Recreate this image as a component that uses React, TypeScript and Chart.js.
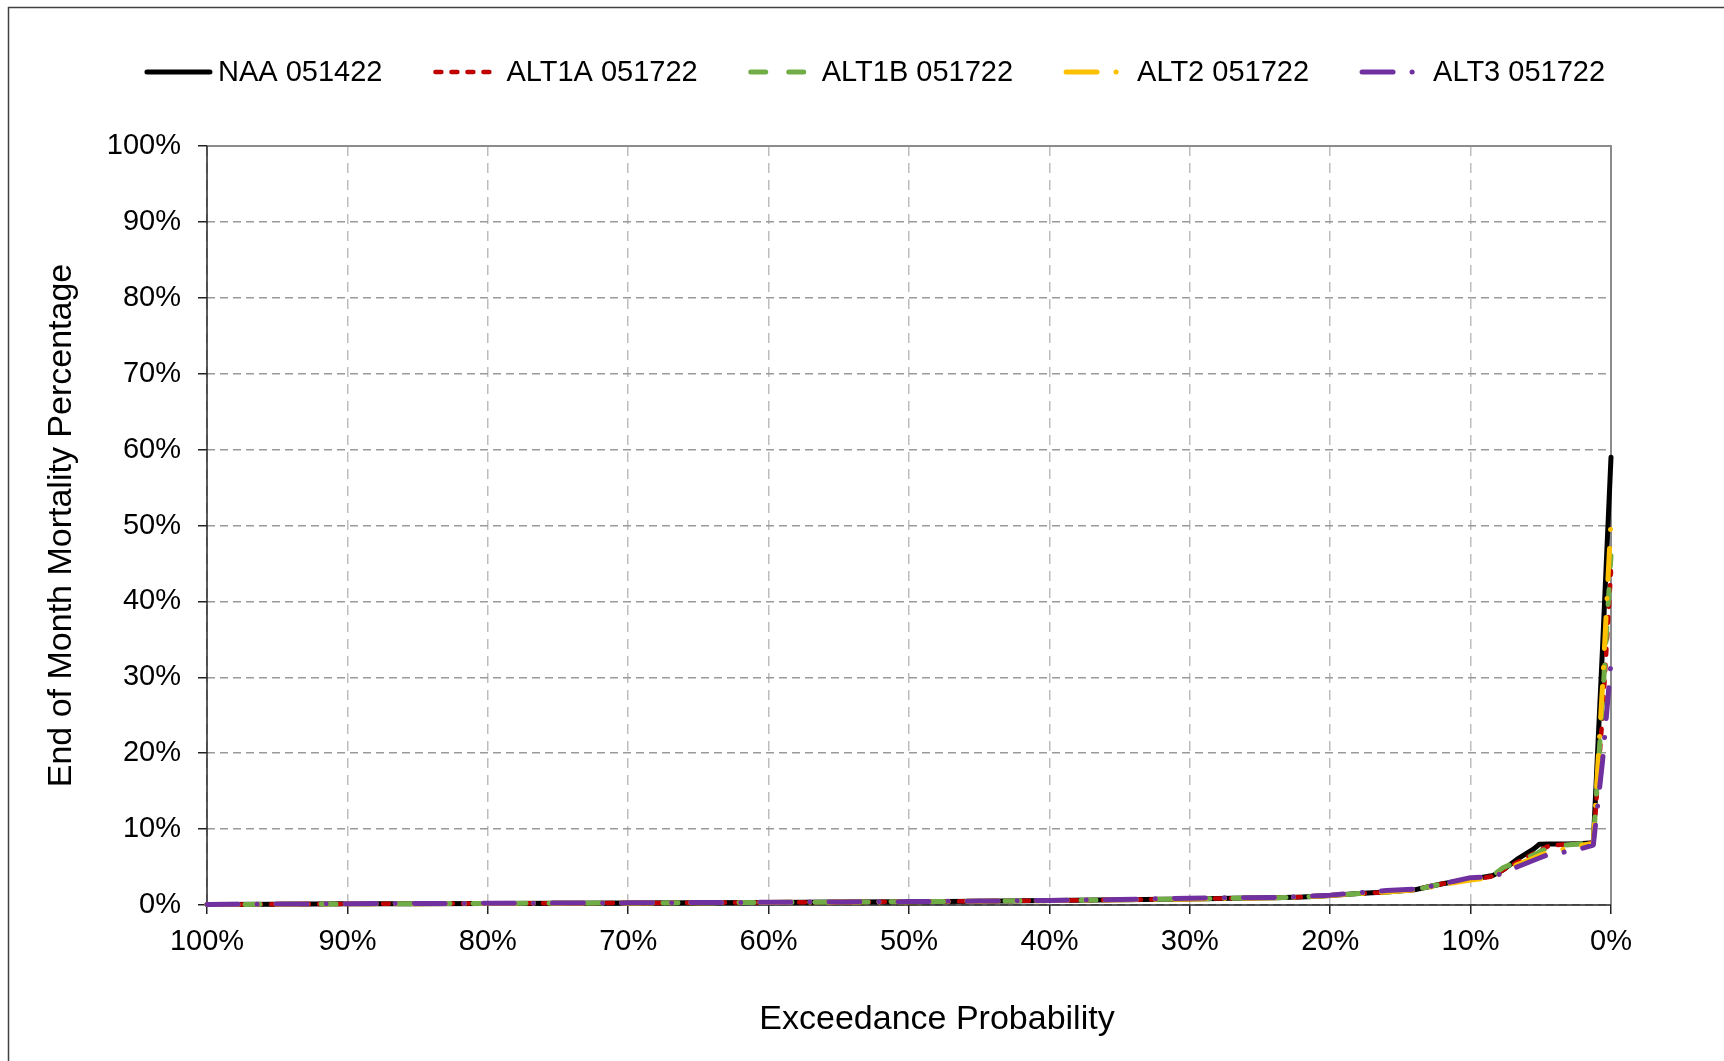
import React, { useEffect, useRef } from 'react';
import { Chart, registerables } from 'chart.js';

Chart.register(...registerables);

// Exceedance probability (%) shared by all series
const exceedance = [100, 95, 90, 85, 80, 75, 70, 65, 60, 55, 50, 45, 40, 35, 30, 27, 24, 22, 20, 18, 16, 14, 13, 12, 11, 10, 9, 8.4, 7.7, 6.7, 5.5, 5.1, 4.4, 3.2, 2.0, 1.26, 0.6, 0];

// End of month mortality percentage (%)
const naa051422 = [0.05, 0.1, 0.15, 0.17, 0.2, 0.22, 0.25, 0.3, 0.33, 0.38, 0.42, 0.5, 0.58, 0.68, 0.8, 0.88, 0.95, 1.05, 1.25, 1.5, 1.7, 2.0, 2.4, 2.8, 3.1, 3.4, 3.7, 3.9, 4.6, 6.0, 7.4, 8.0, 8.05, 8.05, 8.1, 8.2, 34, 59];
const alt1a051722 = [0.05, 0.1, 0.15, 0.18, 0.2, 0.23, 0.26, 0.3, 0.34, 0.38, 0.43, 0.5, 0.58, 0.68, 0.8, 0.88, 0.96, 1.05, 1.25, 1.5, 1.7, 2.0, 2.4, 2.8, 3.1, 3.4, 3.6, 3.8, 4.6, 5.6, 6.8, 7.2, 7.8, 8.0, 8.1, 8.2, 25, 44];
const alt1b051722 = [0.05, 0.1, 0.15, 0.18, 0.2, 0.23, 0.26, 0.3, 0.34, 0.38, 0.43, 0.5, 0.58, 0.68, 0.8, 0.88, 0.96, 1.05, 1.25, 1.5, 1.7, 2.0, 2.4, 2.8, 3.1, 3.4, 3.6, 3.9, 4.9, 5.7, 6.6, 7.0, 7.6, 7.9, 8.1, 8.2, 27, 46];
const alt2051722 = [0.05, 0.1, 0.15, 0.18, 0.2, 0.23, 0.26, 0.3, 0.34, 0.38, 0.43, 0.5, 0.58, 0.68, 0.8, 0.88, 0.96, 1.05, 1.25, 1.5, 1.7, 2.0, 2.3, 2.7, 3.0, 3.3, 3.5, 3.7, 4.3, 5.3, 6.2, 6.5, 7.0, 7.4, 7.9, 8.1, 29, 50.7];
const alt3051722 = [0.07, 0.12, 0.17, 0.2, 0.22, 0.25, 0.28, 0.32, 0.36, 0.4, 0.45, 0.52, 0.6, 0.72, 0.9, 0.95, 1.0, 1.1, 1.3, 1.6, 1.9, 2.1, 2.4, 2.8, 3.2, 3.6, 3.7, 3.8, 4.2, 5.0, 5.9, 6.2, 6.7, 7.0, 7.5, 7.9, 19, 32];

const seriesLabels = ['NAA 051422', 'ALT1A 051722', 'ALT1B 051722', 'ALT2 051722', 'ALT3 051722'];
const seriesValues = [naa051422, alt1a051722, alt1b051722, alt2051722, alt3051722];
const seriesColors = ['#000000', '#C00000', '#70AD47', '#FFC000', '#7030A0'];
const seriesDash = [[], [6, 10], [15, 23], [31, 19, 0.1, 19], [31, 19, 0.1, 19]];
const seriesWidth = [5, 4.5, 5, 5, 5];

const xTitle = 'Exceedance Probability';
const yTitle = 'End of Month Mortality Percentage';

const FONT = '"Liberation Sans", Arial, sans-serif';

export default function App() {
  const ref = useRef<HTMLCanvasElement>(null);

  useEffect(() => {
    document.body.style.margin = '0';
    document.body.style.overflow = 'hidden';
    const canvas = ref.current!;

    const decor = {
      id: 'decor',
      beforeDatasetsDraw(chart: any) {
        const { ctx, chartArea: a } = chart;
        ctx.save();
        ctx.strokeStyle = '#8c8c8c';
        ctx.lineWidth = 2;
        ctx.setLineDash([]);
        ctx.beginPath();
        ctx.moveTo(a.left, a.top);
        ctx.lineTo(a.right, a.top);
        ctx.lineTo(a.right, a.bottom);
        ctx.stroke();
        ctx.strokeStyle = '#262626';
        ctx.lineWidth = 1.5;
        ctx.beginPath();
        ctx.moveTo(a.left, a.top);
        ctx.lineTo(a.left, a.bottom);
        ctx.lineTo(a.right, a.bottom);
        ctx.stroke();
        ctx.restore();
      },
      afterDraw(chart: any) {
        const { ctx, chartArea: a } = chart;
        ctx.save();
        // outer frame
        ctx.strokeStyle = '#404040';
        ctx.lineWidth = 1.5;
        ctx.beginPath();
        ctx.moveTo(8.5, chart.height);
        ctx.lineTo(8.5, 7.5);
        ctx.lineTo(chart.width, 7.5);
        ctx.stroke();

        // legend
        ctx.font = `29px ${FONT}`;
        ctx.textBaseline = 'middle';
        ctx.textAlign = 'left';
        const lineLen = 67;
        const gap = 6;
        const spacing = 51;
        const ds = chart.data.datasets;
        const widths = ds.map((d: any) => lineLen + gap + ctx.measureText(d.label).width);
        const total = widths.reduce((s: number, w: number) => s + w, 0) + spacing * (ds.length - 1);
        let x = 875 - total / 2;
        const ly = 72;
        ds.forEach((d: any, i: number) => {
          ctx.save();
          ctx.strokeStyle = d.borderColor;
          ctx.lineWidth = d.borderWidth;
          ctx.lineCap = 'round';
          ctx.setLineDash(d.borderDash || []);
          ctx.beginPath();
          ctx.moveTo(x + 2, ly);
          ctx.lineTo(x + lineLen - 2, ly);
          ctx.stroke();
          ctx.restore();
          ctx.fillStyle = '#000';
          ctx.fillText(d.label, x + lineLen + gap, ly + 1);
          x += widths[i] + spacing;
        });

        // axis titles
        ctx.font = `34px ${FONT}`;
        ctx.fillStyle = '#000';
        ctx.textAlign = 'center';
        ctx.textBaseline = 'middle';
        ctx.fillText(xTitle, 937, 1020);
        ctx.translate(62, (a.top + a.bottom) / 2);
        ctx.rotate(-Math.PI / 2);
        ctx.fillText(yTitle, 0, 0);
        ctx.restore();
      },
    };

    const datasets = seriesLabels.map((label, i) => ({
      label,
      data: exceedance.map((p, j) => ({ x: p, y: seriesValues[i][j] })),
      borderColor: seriesColors[i],
      backgroundColor: seriesColors[i],
      borderWidth: seriesWidth[i],
      borderDash: seriesDash[i],
      borderCapStyle: 'round' as const,
      borderJoinStyle: 'round' as const,
      pointRadius: 0,
      pointHoverRadius: 0,
      tension: 0,
      fill: false,
      clip: 6,
      order: seriesLabels.length - i,
    }));

    const chart = new Chart(canvas, {
      type: 'line',
      data: { datasets },
      options: {
        animation: false,
        responsive: false,
        devicePixelRatio: 1,
        layout: { padding: { top: 146, right: 113, bottom: 0, left: 0 } },
        plugins: {
          legend: { display: false },
          tooltip: { enabled: false },
          title: { display: false },
        },
        scales: {
          x: {
            type: 'linear',
            reverse: true,
            min: 0,
            max: 100,
            afterFit: (s: any) => { s.height = 156; },
            ticks: {
              stepSize: 10,
              autoSkip: false,
              maxRotation: 0,
              padding: 11,
              color: '#000',
              font: { family: FONT, size: 29 },
              callback: (v: any) => `${v}%`,
            },
            grid: {
              color: '#bdbdbd',
              lineWidth: 1.5,
              tickLength: 9,
              tickColor: '#222',
              tickWidth: 1.5,
              tickBorderDash: [],
            },
            border: { display: false, dash: [10, 7] },
          },
          y: {
            type: 'linear',
            min: 0,
            max: 100,
            afterFit: (s: any) => { s.width = 207; },
            ticks: {
              stepSize: 10,
              padding: 17,
              color: '#000',
              font: { family: FONT, size: 29 },
              callback: (v: any) => `${v}%`,
            },
            grid: {
              color: '#9a9a9a',
              lineWidth: 1.5,
              tickLength: 9,
              tickColor: '#222',
              tickWidth: 1.5,
              tickBorderDash: [],
            },
            border: { display: false, dash: [8, 5] },
          },
        },
      },
      plugins: [decor],
    });

    return () => chart.destroy();
  }, []);

  return <canvas ref={ref} width={1724} height={1061} style={{ display: 'block' }} />;
}
